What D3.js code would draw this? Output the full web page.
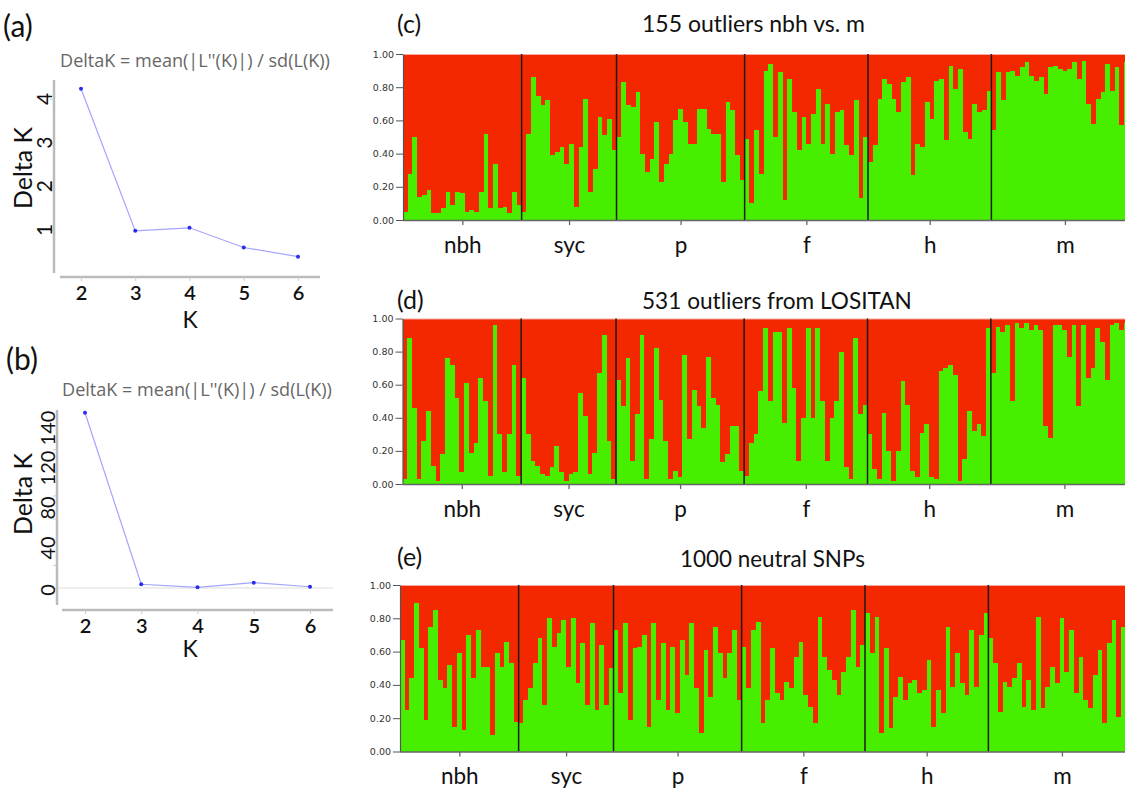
<!DOCTYPE html>
<html>
<head>
<meta charset="utf-8">
<script src="https://cdn.jsdelivr.net/npm/d3@7"></script>
<style>
  body { margin: 0; background: #fff; }
  svg { display: block; }
</style>
</head>
<body>
<svg id="fig" width="1125" height="790"></svg>
<script>
// ---- data ----
const kValues = [2, 3, 4, 5, 6];
const deltaKa = [4.23, 0.98, 1.05, 0.60, 0.39];
const deltaKb = [151.5, 3.2, 0.6, 4.6, 1.1];

const groups = ['nbh', 'syc', 'p', 'f', 'h', 'm'];
const groupSizes = [25, 20, 27, 26, 26, 31];

// membership in the green cluster, one value per individual
const qOutliers155 = [
  0.05, 0.28, 0.50, 0.14, 0.15, 0.18, 0.04, 0.04, 0.07, 0.17, 0.09, 0.17, 0.16, 0.05, 0.06, 0.05, 0.17, 0.52, 0.07, 0.34, 0.07, 0.08, 0.04, 0.17, 0.09,
  0.05, 0.52, 0.86, 0.75, 0.69, 0.72, 0.39, 0.41, 0.44, 0.34, 0.46, 0.08, 0.44, 0.73, 0.17, 0.31, 0.62, 0.51, 0.61, 0.42,
  0.50, 0.83, 0.69, 0.68, 0.77, 0.40, 0.29, 0.37, 0.59, 0.23, 0.34, 0.40, 0.60, 0.67, 0.59, 0.46, 0.46, 0.67, 0.67, 0.55, 0.52, 0.52, 0.23, 0.71, 0.66, 0.39, 0.24,
  0.49, 0.10, 0.54, 0.28, 0.90, 0.94, 0.50, 0.89, 0.12, 0.85, 0.65, 0.42, 0.62, 0.46, 0.64, 0.79, 0.46, 0.70, 0.40, 0.65, 0.66, 0.45, 0.39, 0.72, 0.13, 0.50,
  0.35, 0.45, 0.73, 0.85, 0.82, 0.73, 0.65, 0.83, 0.86, 0.27, 0.46, 0.44, 0.71, 0.61, 0.84, 0.85, 0.48, 0.93, 0.79, 0.91, 0.53, 0.49, 0.70, 0.65, 0.66, 0.78,
  0.54, 0.89, 0.72, 0.89, 0.90, 0.87, 0.92, 0.95, 0.87, 0.84, 0.86, 0.76, 0.92, 0.93, 0.91, 0.90, 0.91, 0.95, 0.85, 0.96, 0.70, 0.58, 0.73, 0.77, 0.94, 0.78, 0.92, 0.57, 0.95, 0.90, 0.88
];
const qLositan531 = [
  0.03, 0.88, 0.46, 0.03, 0.26, 0.44, 0.11, 0.02, 0.18, 0.76, 0.72, 0.52, 0.07, 0.61, 0.19, 0.25, 0.64, 0.50, 0.05, 0.96, 0.30, 0.07, 0.30, 0.72, 0.05,
  0.64, 0.30, 0.14, 0.11, 0.06, 0.05, 0.10, 0.23, 0.07, 0.02, 0.06, 0.07, 0.55, 0.41, 0.06, 0.19, 0.67, 0.90, 0.26, 0.03,
  0.63, 0.47, 0.76, 0.14, 0.42, 0.90, 0.03, 0.27, 0.82, 0.51, 0.26, 0.03, 0.08, 0.04, 0.78, 0.27, 0.57, 0.47, 0.34, 0.77, 0.52, 0.48, 0.13, 0.18, 0.35, 0.35, 0.08,
  0.05, 0.25, 0.30, 0.56, 0.94, 0.50, 0.92, 0.92, 0.37, 0.94, 0.58, 0.14, 0.40, 0.94, 0.40, 0.94, 0.50, 0.14, 0.40, 0.50, 0.80, 0.10, 0.03, 0.88, 0.42, 0.48,
  0.30, 0.09, 0.03, 0.43, 0.20, 0.02, 0.20, 0.62, 0.48, 0.08, 0.04, 0.31, 0.36, 0.04, 0.03, 0.68, 0.70, 0.72, 0.66, 0.02, 0.15, 0.44, 0.32, 0.36, 0.29, 0.94,
  0.67, 0.95, 0.92, 0.96, 0.50, 0.97, 0.94, 0.97, 0.93, 0.96, 0.93, 0.35, 0.28, 0.96, 0.96, 0.93, 0.77, 0.96, 0.47, 0.96, 0.64, 0.70, 0.94, 0.86, 0.63, 0.96, 0.97, 0.93, 0.97, 0.94, 0.72
];
const qNeutral1000 = [
  0.67, 0.25, 0.44, 0.89, 0.62, 0.19, 0.75, 0.85, 0.43, 0.38, 0.52, 0.15, 0.59, 0.13, 0.70, 0.44, 0.73, 0.51, 0.51, 0.10, 0.59, 0.51, 0.66, 0.53, 0.18,
  0.17, 0.31, 0.38, 0.53, 0.68, 0.28, 0.80, 0.63, 0.71, 0.79, 0.51, 0.80, 0.41, 0.65, 0.28, 0.77, 0.25, 0.64, 0.28, 0.50,
  0.73, 0.35, 0.77, 0.19, 0.62, 0.63, 0.70, 0.15, 0.77, 0.31, 0.65, 0.25, 0.63, 0.23, 0.67, 0.46, 0.77, 0.38, 0.11, 0.61, 0.33, 0.75, 0.59, 0.44, 0.59, 0.73, 0.31,
  0.63, 0.38, 0.73, 0.78, 0.17, 0.31, 0.62, 0.35, 0.31, 0.42, 0.38, 0.57, 0.66, 0.34, 0.27, 0.17, 0.81, 0.57, 0.49, 0.43, 0.34, 0.48, 0.57, 0.85, 0.51, 0.64,
  0.83, 0.59, 0.81, 0.11, 0.62, 0.14, 0.33, 0.45, 0.31, 0.41, 0.43, 0.35, 0.37, 0.55, 0.15, 0.37, 0.23, 0.75, 0.39, 0.59, 0.41, 0.34, 0.73, 0.39, 0.70, 0.83,
  0.68, 0.53, 0.24, 0.42, 0.39, 0.44, 0.53, 0.27, 0.43, 0.25, 0.81, 0.26, 0.39, 0.51, 0.41, 0.80, 0.48, 0.73, 0.35, 0.57, 0.31, 0.26, 0.46, 0.61, 0.17, 0.65, 0.79, 0.21, 0.75, 0.65, 0.55
];
const qTicks = [0, 0.2, 0.4, 0.6, 0.8, 1];

const RED = '#f42800';
const GREEN = '#47ee00';
const labelFont = 'Lato, "Open Sans", sans-serif';

const svg = d3.select('#fig');
svg.append('rect').attr('width', 1125).attr('height', 790).attr('fill', '#fff');

// scale a text's font size so it spans the wanted width
function fitWidth(sel, width) {
  const size = +sel.attr('font-size');
  const w = sel.node().getComputedTextLength();
  sel.attr('font-size', (size * width / w).toFixed(2));
  return sel;
}

// push rotated tick labels apart so they do not collide (top to bottom)
function dodge(pos, gap) {
  const out = pos.slice();
  for (let i = 1; i < out.length; i++) out[i] = Math.max(out[i], out[i - 1] + gap);
  return out;
}

// ---- (a) and (b): Delta K line plots ----
function deltaPlot(opt) {
  const g = svg.append('g');
  const x = d3.scalePoint().domain(kValues).range(opt.xRange);
  const y = d3.scaleLinear().domain(opt.yDomain).range(opt.yRange);

  g.append('text').attr('x', opt.letterX).attr('y', opt.letterY)
    .attr('font-family', labelFont).attr('font-size', 30).attr('fill', '#111')
    .text(opt.letter);
  const title = g.append('text').attr('x', opt.titleX).attr('y', opt.titleY)
    .attr('text-anchor', 'middle')
    .attr('font-family', '"Open Sans", sans-serif').attr('font-size', 15).attr('fill', '#666')
    .text("DeltaK = mean(|L''(K)|) / sd(L(K))");
  fitWidth(title, 270);

  if (opt.zeroLine) {
    g.append('line').attr('x1', opt.axisX).attr('x2', opt.xLine[1])
      .attr('y1', y(0)).attr('y2', y(0)).attr('stroke', '#ddd').attr('stroke-width', 1);
  }

  // axis lines
  g.append('line').attr('x1', opt.axisX).attr('x2', opt.axisX)
    .attr('y1', opt.yLine[0]).attr('y2', opt.yLine[1])
    .attr('stroke', '#bbb').attr('stroke-width', 2.5);
  g.append('line').attr('x1', opt.xLine[0]).attr('x2', opt.xLine[1])
    .attr('y1', opt.axisY).attr('y2', opt.axisY)
    .attr('stroke', '#bbb').attr('stroke-width', 2.5);

  // y ticks
  const yAx = g.append('g').attr('transform', `translate(${opt.axisX},0)`)
    .call(d3.axisLeft(y).tickValues(opt.minorTicks).tickSize(4).tickFormat(''));
  yAx.select('.domain').remove();
  yAx.selectAll('line').attr('stroke', '#ccc');
  const sorted = opt.yTicks.slice().sort((a, b) => b - a);
  const labY = dodge(sorted.map((d) => y(d) + opt.labelShift), opt.labelGap);
  const labs = sorted.map((d, i) => ({ d, pos: labY[i] }));
  g.selectAll('text.ylab').data(labs).join('text')
    .attr('class', 'ylab')
    .attr('transform', (l) => `translate(${opt.axisX - 2},${l.pos}) rotate(-90)`)
    .attr('text-anchor', 'middle')
    .attr('font-family', labelFont).attr('font-size', opt.yFont).attr('fill', '#111')
    .text((l) => l.d);

  // x ticks
  const xAx = g.append('g').attr('transform', `translate(0,${opt.axisY})`)
    .call(d3.axisBottom(x).tickSize(4).tickPadding(5));
  xAx.select('.domain').remove();
  xAx.selectAll('line').attr('stroke', '#ccc');
  xAx.selectAll('text').attr('font-family', labelFont).attr('font-size', 20)
    .attr('font-weight', 600).attr('fill', '#111');

  g.append('text').attr('x', opt.kX).attr('y', opt.axisY + opt.kOffset).attr('text-anchor', 'middle')
    .attr('font-family', labelFont).attr('font-size', 23).attr('fill', '#111').text('K');
  const dk = g.append('text')
    .attr('transform', `translate(32,${opt.dkY}) rotate(-90)`)
    .attr('text-anchor', 'middle')
    .attr('font-family', labelFont).attr('font-size', 24).attr('fill', '#111').text('Delta K');
  fitWidth(dk, 82);

  const pts = kValues.map((k, i) => [x(k), y(opt.values[i])]);
  g.append('path').attr('d', d3.line()(pts)).attr('fill', 'none')
    .attr('stroke', '#a4a4ff').attr('stroke-width', 1.2);
  g.selectAll('circle').data(pts).join('circle')
    .attr('cx', (d) => d[0]).attr('cy', (d) => d[1]).attr('r', 2)
    .attr('fill', '#2a2aee');
}

deltaPlot({
  letter: '(a)', letterX: 3, letterY: 37, titleX: 195, titleY: 67,
  values: deltaKa,
  xRange: [81, 298], yDomain: [0, 4.5], yRange: [273.7, 77],
  axisX: 54, axisY: 277, yLine: [80, 273], xLine: [60, 320],
  minorTicks: [1, 2, 3, 4], yTicks: [1, 2, 3, 4], labelShift: 0, labelGap: 0, yFont: 21,
  zeroLine: false, kX: 190, kOffset: 51, dkY: 168
});

deltaPlot({
  letter: '(b)', letterX: 6, letterY: 370, titleX: 197, titleY: 396,
  values: deltaKb,
  xRange: [85, 310], yDomain: [0, 140], yRange: [588, 426],
  axisX: 57, axisY: 610, yLine: [410, 605], xLine: [62, 333],
  minorTicks: d3.range(0, 141, 20), yTicks: [0, 40, 80, 120, 140], labelShift: 2, labelGap: 40, yFont: 20,
  zeroLine: true, kX: 190, kOffset: 47, dkY: 494
});

// ---- (c), (d), (e): structure bar plots ----
const panels = [
  { letter: '(c)', title: '155 outliers nbh vs. m', values: qOutliers155,
    left: 403, top: 54, bottom: 220, titleX: 642, titleW: 223, titleY: 32, letterY: 33 },
  { letter: '(d)', title: '531 outliers from LOSITAN', values: qLositan531,
    left: 402.5, top: 318.5, bottom: 484, titleX: 642, titleW: 270, titleY: 309, letterY: 309 },
  { letter: '(e)', title: '1000 neutral SNPs', values: qNeutral1000,
    left: 400, top: 585, bottom: 751.5, titleX: 680, titleW: 185, titleY: 567, letterY: 566 }
];

const nInd = d3.sum(groupSizes);
const step = 4.745;
const bounds = d3.cumsum([0, ...groupSizes]);
let groupFont = null;

panels.forEach((p) => {
  const g = svg.append('g');
  const x = d3.scaleBand().domain(d3.range(nInd))
    .range([p.left, p.left + nInd * step]).paddingInner(0).paddingOuter(0);
  const y = d3.scaleLinear().domain([0, 1]).range([p.bottom, p.top]);

  const bars = g.append('g').attr('shape-rendering', 'crispEdges');
  bars.selectAll('rect.red').data(p.values).join('rect')
    .attr('class', 'red')
    .attr('x', (d, i) => x(i)).attr('width', x.bandwidth())
    .attr('y', y(1)).attr('height', (d) => y(d) - y(1))
    .attr('fill', RED);
  bars.selectAll('rect.green').data(p.values).join('rect')
    .attr('class', 'green')
    .attr('x', (d, i) => x(i)).attr('width', x.bandwidth())
    .attr('y', (d) => y(d)).attr('height', (d) => y(0) - y(d))
    .attr('fill', GREEN);

  // light rim along 1.00
  g.append('line').attr('x1', p.left).attr('x2', 1125)
    .attr('y1', y(1) + 0.5).attr('y2', y(1) + 0.5)
    .attr('stroke', '#f7aaa0').attr('stroke-width', 1);

  // group separators
  g.selectAll('line.sep').data(bounds.slice(1, -1)).join('line')
    .attr('class', 'sep')
    .attr('x1', (b) => x(b)).attr('x2', (b) => x(b))
    .attr('y1', y(1)).attr('y2', y(0))
    .attr('stroke', '#1a1a1a').attr('stroke-width', 1.5);

  // y axis
  const yAx = g.append('g').attr('transform', `translate(${p.left},0)`)
    .call(d3.axisLeft(y).tickValues(qTicks).tickFormat(d3.format('.2f'))
      .tickSize(7).tickSizeOuter(0).tickPadding(2));
  yAx.select('.domain').attr('stroke', '#555').attr('stroke-width', 1.2);
  yAx.selectAll('line').attr('stroke', '#555');
  yAx.selectAll('text').attr('font-family', '"DejaVu Sans", sans-serif')
    .attr('font-size', 9.5).attr('fill', '#333');

  // bottom axis with group names
  g.append('line').attr('x1', p.left).attr('x2', 1125)
    .attr('y1', y(0) + 0.5).attr('y2', y(0) + 0.5)
    .attr('stroke', '#666').attr('stroke-width', 1.5);
  const centers = groups.map((name, i) => (x(bounds[i]) + x(bounds[i + 1] - 1) + x.bandwidth()) / 2);
  const gx = d3.scaleOrdinal().domain(groups).range(centers);
  const xAx = g.append('g').attr('transform', `translate(0,${y(0)})`)
    .call(d3.axisBottom(gx).tickSize(5).tickPadding(12));
  xAx.select('.domain').remove();
  xAx.selectAll('line').attr('stroke', '#666').attr('stroke-width', 1.3);
  const gl = xAx.selectAll('text').attr('font-family', labelFont).attr('font-size', 22).attr('fill', '#111');
  if (groupFont === null) {
    fitWidth(gl.filter((d) => d === 'nbh'), 37.7);
    groupFont = gl.filter((d) => d === 'nbh').attr('font-size');
  }
  gl.attr('font-size', groupFont);

  g.append('text').attr('x', 397).attr('y', p.letterY)
    .attr('font-family', labelFont).attr('font-size', 25).attr('fill', '#111').text(p.letter);
  const t = g.append('text').attr('x', p.titleX).attr('y', p.titleY)
    .attr('font-family', labelFont).attr('font-size', 22).attr('fill', '#111').text(p.title);
  fitWidth(t, p.titleW);
});
</script>
</body>
</html>
